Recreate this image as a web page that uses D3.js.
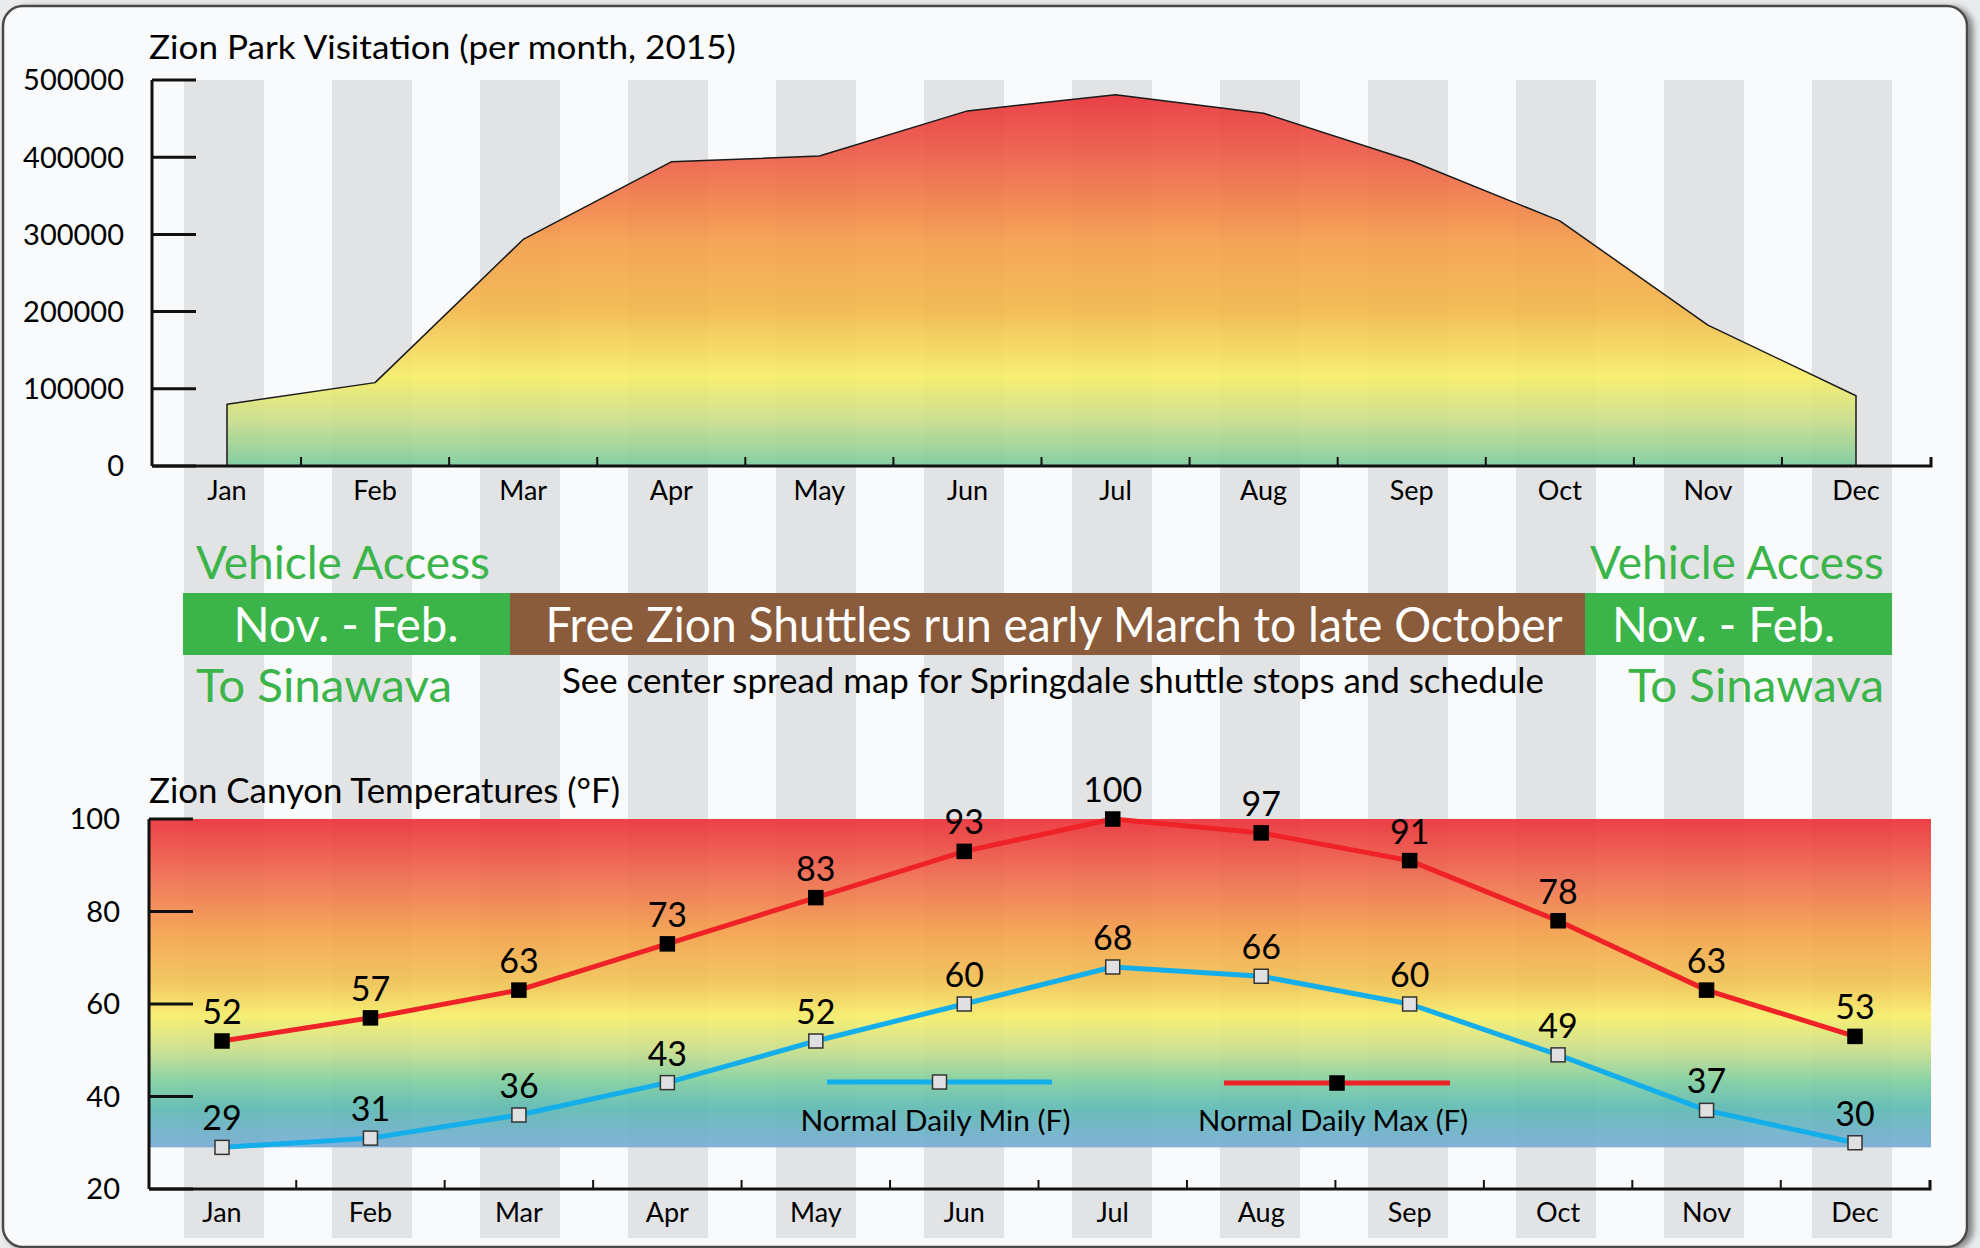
<!DOCTYPE html>
<html>
<head>
<meta charset="utf-8">
<script src="https://cdn.jsdelivr.net/npm/d3@7"></script>
<style>
  html, body { margin: 0; padding: 0; background: #e9ebed; }
  svg { display: block; font-family: Lato, "Open Sans", sans-serif; }
</style>
</head>
<body>
<svg id="chart" width="1980" height="1248"></svg>
<script>
// data
const months = ['Jan', 'Feb', 'Mar', 'Apr', 'May', 'Jun', 'Jul', 'Aug', 'Sep', 'Oct', 'Nov', 'Dec'];
const visitors = [80000, 108000, 293500, 394000, 401500, 460000, 481000, 457000, 395000, 317500, 182500, 91000];
const visitTicks = [0, 100000, 200000, 300000, 400000, 500000];
const tempMax = [52, 57, 63, 73, 83, 93, 100, 97, 91, 78, 63, 53];
const tempMin = [29, 31, 36, 43, 52, 60, 68, 66, 60, 49, 37, 30];
const tempTicks = [20, 40, 60, 80, 100];

const svg = d3.select('#chart');
const defs = svg.append('defs');

const shadow = defs.append('filter').attr('id', 'shadow')
  .attr('x', '-5%').attr('y', '-5%').attr('width', '110%').attr('height', '110%');
shadow.append('feDropShadow')
  .attr('dx', 5).attr('dy', 2).attr('stdDeviation', 3)
  .attr('flood-color', '#000').attr('flood-opacity', 0.45);

const addGradient = (id, stops, y1, y2) => {
  const g = defs.append('linearGradient').attr('id', id)
    .attr('gradientUnits', 'userSpaceOnUse')
    .attr('x1', 0).attr('x2', 0).attr('y1', y1).attr('y2', y2);
  stops.forEach(([o, c]) => g.append('stop').attr('offset', o).attr('stop-color', c));
};

// panel
svg.append('rect')
  .attr('x', 3).attr('y', 6).attr('width', 1964).attr('height', 1241)
  .attr('rx', 20)
  .attr('fill', '#f9fafb')
  .attr('stroke', '#4a4a4a')
  .attr('stroke-width', 2.5)
  .attr('filter', 'url(#shadow)');

// scales
const xStripe = d3.scalePoint().domain(months).range([224, 1852]);
const xTop = d3.scalePoint().domain(months).range([227, 1856]);
const yTop = d3.scaleLinear().domain([0, 500000]).range([466, 80]);
const xBot = d3.scalePoint().domain(months).range([222, 1855]);
const yBot = d3.scaleLinear().domain([20, 100]).range([1189, 819]);

// stripes behind everything
svg.append('g')
  .selectAll('rect')
  .data(months)
  .enter()
  .append('rect')
  .attr('x', (d) => xStripe(d) - 40)
  .attr('y', 80)
  .attr('width', 80)
  .attr('height', 1158)
  .attr('fill', '#e2e3e5');

// ---------- visitation chart ----------
const peakY = yTop(d3.max(visitors));
addGradient('visitGrad', [
  [0, '#e9323a'], [0.18, '#ee6149'], [0.4, '#f59f4a'], [0.58, '#f3b84b'],
  [0.76, '#f7ee68'], [0.88, '#c9de8c'], [1, '#7ccb9f']
], peakY, yTop(0));

const area = d3.area()
  .x((d, i) => xTop(months[i]))
  .y0(yTop(0))
  .y1((d) => yTop(d));

svg.append('path')
  .datum(visitors)
  .attr('d', area)
  .attr('fill', 'url(#visitGrad)')
  .attr('fill-opacity', 0.92)
  .attr('stroke', '#1a1a1a')
  .attr('stroke-width', 1.5)
  .attr('stroke-linejoin', 'round');

svg.append('text')
  .attr('x', 149).attr('y', 59)
  .attr('font-size', 33)
  .attr('textLength', 587)
  .attr('lengthAdjust', 'spacingAndGlyphs')
  .text('Zion Park Visitation (per month, 2015)');

const drawAxes = (x, y, ticks, axisX, axisEnd, tickLabelX, fmt, monthBaseline) => {
  const g = svg.append('g').attr('stroke', '#111');
  const [y0] = y.range();
  g.append('line')
    .attr('x1', axisX).attr('x2', axisX)
    .attr('y1', y(ticks[ticks.length - 1])).attr('y2', y0)
    .attr('stroke-width', 3);
  g.append('path')
    .attr('d', `M${axisX},${y0}H${axisEnd}V${y0 - 9}`)
    .attr('fill', 'none')
    .attr('stroke-width', 3);
  g.selectAll('.ytick')
    .data(ticks)
    .enter()
    .append('line')
    .attr('x1', axisX).attr('x2', axisX + 44)
    .attr('y1', (d) => y(d)).attr('y2', (d) => y(d))
    .attr('stroke-width', 3);
  // minor ticks between months
  g.selectAll('.xtick')
    .data(months.slice(1))
    .enter()
    .append('line')
    .attr('x1', (d, i) => (x(d) + x(months[i])) / 2)
    .attr('x2', (d, i) => (x(d) + x(months[i])) / 2)
    .attr('y1', y0).attr('y2', y0 - 9)
    .attr('stroke-width', 2);

  svg.append('g')
    .selectAll('text')
    .data(ticks)
    .enter()
    .append('text')
    .attr('x', tickLabelX)
    .attr('y', (d) => y(d))
    .attr('dy', '0.36em')
    .attr('text-anchor', 'end')
    .attr('font-size', 29)
    .text(fmt);

  svg.append('g')
    .selectAll('text')
    .data(months)
    .enter()
    .append('text')
    .attr('x', (d) => x(d))
    .attr('y', monthBaseline)
    .attr('text-anchor', 'middle')
    .attr('font-size', 27)
    .text((d) => d);
};

drawAxes(xTop, yTop, visitTicks, 152, 1931, 124, (d) => String(d), 500);

// ---------- shuttle banner ----------
const green = '#3bb54a';
const brown = '#8a5c3c';
const bannerY = 593;
const bannerH = 62;
const greenLeftEnd = 510;
const brownEnd = 1585;

svg.append('rect')
  .attr('x', xStripe('Jan') - 41).attr('y', bannerY)
  .attr('width', greenLeftEnd - (xStripe('Jan') - 41)).attr('height', bannerH)
  .attr('fill', green);
svg.append('rect')
  .attr('x', greenLeftEnd).attr('y', bannerY)
  .attr('width', brownEnd - greenLeftEnd).attr('height', bannerH)
  .attr('fill', brown);
svg.append('rect')
  .attr('x', brownEnd).attr('y', bannerY)
  .attr('width', xStripe('Dec') + 40 - brownEnd).attr('height', bannerH)
  .attr('fill', green);

const label = (txt, x, y, size, fill, anchor, len) => {
  const t = svg.append('text')
    .attr('x', x).attr('y', y)
    .attr('font-size', size)
    .attr('fill', fill)
    .attr('text-anchor', anchor)
    .text(txt);
  if (len) t.attr('textLength', len).attr('lengthAdjust', 'spacingAndGlyphs');
  return t;
};

label('Vehicle Access', 196, 579, 47, green, 'start', 294);
label('Vehicle Access', 1884, 579, 47, green, 'end', 294);
label('Nov. - Feb.', 346, 642, 48, '#fff', 'middle', 225);
label('Nov. - Feb.', 1612, 642, 48, '#fff', 'start', 223);
label('Free Zion Shuttles run early March to late October', 1054, 642, 48, '#fff', 'middle', 1017);
label('To Sinawava', 196, 702, 47, green, 'start', 256);
label('To Sinawava', 1884, 702, 47, green, 'end', 256);
label('See center spread map for Springdale shuttle stops and schedule', 562, 693, 34, '#000', 'start', 982);

// ---------- temperature chart ----------
const tTop = yBot(d3.max(tempMax));
const tBottom = yBot(d3.min(tempMin));
addGradient('tempGrad', [
  [0, '#eb3139'], [0.18, '#ef6d4f'], [0.35, '#f5a24c'], [0.5, '#f2c455'],
  [0.6, '#f7ef6a'], [0.7, '#cde08a'], [0.8, '#7fcfa1'], [0.88, '#5ebab3'], [1, '#78acd6']
], tTop, tBottom);

svg.append('rect')
  .attr('x', 149).attr('y', tTop)
  .attr('width', 1931 - 149).attr('height', tBottom - tTop)
  .attr('fill', 'url(#tempGrad)')
  .attr('fill-opacity', 0.92);

label('Zion Canyon Temperatures (°F)', 149, 803, 34, '#000', 'start', 471);

drawAxes(xBot, yBot, tempTicks, 149, 1930, 120, (d) => String(d), 1222);

const line = d3.line()
  .x((d, i) => xBot(months[i]))
  .y((d) => yBot(d));

const series = [
  { values: tempMin, stroke: '#14aeea', fill: '#e0e0e2', border: '#333' },
  { values: tempMax, stroke: '#ee2227', fill: '#000', border: '#000' }
];

series.forEach((s) => {
  svg.append('path')
    .datum(s.values)
    .attr('d', line)
    .attr('fill', 'none')
    .attr('stroke', s.stroke)
    .attr('stroke-width', 5)
    .attr('stroke-linejoin', 'round');

  svg.append('g')
    .selectAll('rect')
    .data(s.values)
    .enter()
    .append('rect')
    .attr('x', (d, i) => xBot(months[i]) - 7)
    .attr('y', (d) => yBot(d) - 7)
    .attr('width', 14).attr('height', 14)
    .attr('fill', s.fill)
    .attr('stroke', s.border)
    .attr('stroke-width', 1.5);

  svg.append('g')
    .selectAll('text')
    .data(s.values)
    .enter()
    .append('text')
    .attr('x', (d, i) => xBot(months[i]))
    .attr('y', (d) => yBot(d) - 17)
    .attr('text-anchor', 'middle')
    .attr('font-size', 34)
    .text((d) => d);
});

// legend
const legend = [
  { name: 'Normal Daily Min (F)', x1: 827, x2: 1052, y: 1082, s: series[0] },
  { name: 'Normal Daily Max (F)', x1: 1224, x2: 1450, y: 1083, s: series[1] }
];
legend.forEach((l) => {
  const cx = (l.x1 + l.x2) / 2;
  svg.append('line')
    .attr('x1', l.x1).attr('x2', l.x2)
    .attr('y1', l.y).attr('y2', l.y)
    .attr('stroke', l.s.stroke)
    .attr('stroke-width', 5);
  svg.append('rect')
    .attr('x', cx - 7).attr('y', l.y - 7)
    .attr('width', 14).attr('height', 14)
    .attr('fill', l.s.fill)
    .attr('stroke', l.s.border)
    .attr('stroke-width', 1.5);
  label(l.name, cx - 4, 1131, 28, '#000', 'middle', 270);
});
</script>
</body>
</html>
